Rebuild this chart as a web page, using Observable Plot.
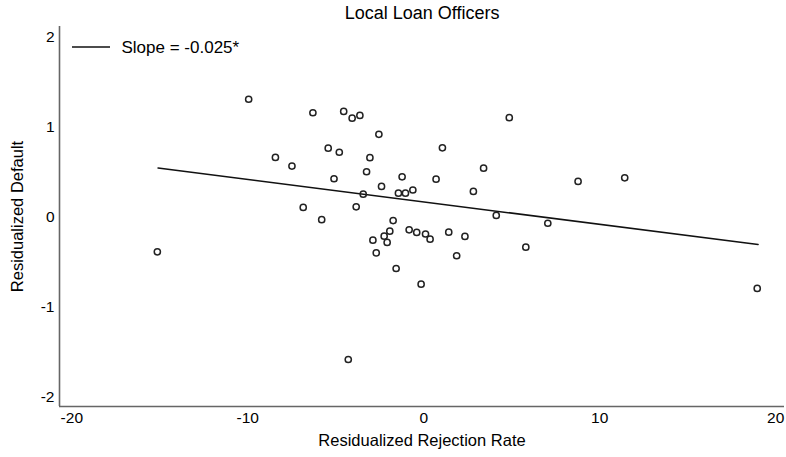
<!DOCTYPE html>
<html>
<head>
<meta charset="utf-8">
<script src="https://cdn.jsdelivr.net/npm/d3@7"></script>
<script src="https://cdn.jsdelivr.net/npm/@observablehq/plot@0.6"></script>
<style>
  html, body { margin: 0; padding: 0; background: #fff; }
  #chart { position: relative; width: 786px; height: 457px; }
</style>
</head>
<body>
<div id="chart"></div>
<script>
// Scatter data
const rejectionRate = [
  -9.95, -6.3, -4.55, -4.07, -3.63, -2.55, -5.43, -4.8, -3.06, -8.43,
  -7.49, -3.25, -5.1, -2.4, -3.44, -1.44, -6.85, -3.84, -5.8, -1.74,
  -1.23, 4.86, 1.06, 3.40, 0.70, -1.04, -0.62, 2.82, 8.77, 11.42,
  4.12, 7.05, -15.14, -4.29, -2.89, -2.70, -2.25, -1.93, -2.08, -1.57,
  -0.83, -0.40, 0.10, 0.36, 1.42, 2.34, 1.87, -0.15, 5.80, 18.95
];
const defaultRate = [
  1.31, 1.16, 1.175, 1.10, 1.13, 0.92, 0.766, 0.72, 0.66, 0.663,
  0.566, 0.503, 0.425, 0.34, 0.254, 0.265, 0.106, 0.113, -0.03, -0.04,
  0.447, 1.105, 0.77, 0.543, 0.42, 0.265, 0.30, 0.284, 0.395, 0.436,
  0.017, -0.07, -0.388, -1.587, -0.258, -0.40, -0.214, -0.158, -0.284, -0.574,
  -0.143, -0.172, -0.19, -0.247, -0.169, -0.217, -0.432, -0.748, -0.336, -0.796
];
// Fitted line endpoints
const fitX = [-15.1, 19.0];
const fitY = [0.545, -0.307];

const xTicks = [-20, -10, 0, 10, 20];
const yTicks = [-2, -1, 0, 1, 2];
const xDomain = [-20.7, 20.5];
const yDomain = [-2.11, 2.12];

const titleText = "Local Loan Officers";
const xLabel = "Residualized Rejection Rate";
const yLabel = "Residualized Default";
const legendLabel = "Slope = -0.025*";

const points = rejectionRate.map((x, i) => ({x, y: defaultRate[i]}));
const fit = fitX.map((x, i) => ({x, y: fitY[i]}));

const font = "'Liberation Sans', Arial, Helvetica, sans-serif";
const fmt = d => String(d);

const plot = Plot.plot({
  width: 786,
  height: 457,
  marginLeft: 59,
  marginRight: 2,
  marginTop: 26,
  marginBottom: 51,
  style: {fontFamily: font, fontSize: "15.5px", color: "#000", background: "#fff", overflow: "visible"},
  x: {domain: xDomain},
  y: {domain: yDomain},
  marks: [
    Plot.ruleX([xDomain[0]], {stroke: "#666", strokeWidth: 1.6}),
    Plot.ruleY([yDomain[0]], {stroke: "#666", strokeWidth: 1.6}),
    Plot.axisX(xTicks, {tickSize: 0, tickPadding: 5, label: null, fontSize: 15.5, tickFormat: fmt}),
    Plot.axisY(yTicks, {tickSize: 0, tickPadding: 5, label: null, fontSize: 15.5, tickFormat: fmt}),
    Plot.line(fit, {x: "x", y: "y", stroke: "#111", strokeWidth: 1.5}),
    Plot.dot(points, {x: "x", y: "y", r: 3.1, stroke: "#222", strokeWidth: 1.5, fill: "none"}),
    Plot.text([titleText], {frameAnchor: "top", dy: -13, lineAnchor: "middle", fontSize: 18, fill: "#000"}),
    Plot.text([xLabel], {frameAnchor: "bottom", dy: 34.5, lineAnchor: "middle", fontSize: 16.5, fill: "#000"}),
    Plot.text([yLabel], {frameAnchor: "left", dx: -41.5, rotate: -90, textAnchor: "middle", lineAnchor: "middle", fontSize: 16.5, fill: "#000"}),
    Plot.text([legendLabel], {frameAnchor: "top-left", dx: 62, dy: 21, textAnchor: "start", lineAnchor: "middle", fontSize: 17, fill: "#000"})
  ]
});

// legend key line
d3.select(plot).append("line")
  .attr("x1", 72).attr("x2", 110)
  .attr("y1", 47).attr("y2", 47)
  .attr("stroke", "#111").attr("stroke-width", 1.5);

document.getElementById("chart").appendChild(plot);
</script>
</body>
</html>
